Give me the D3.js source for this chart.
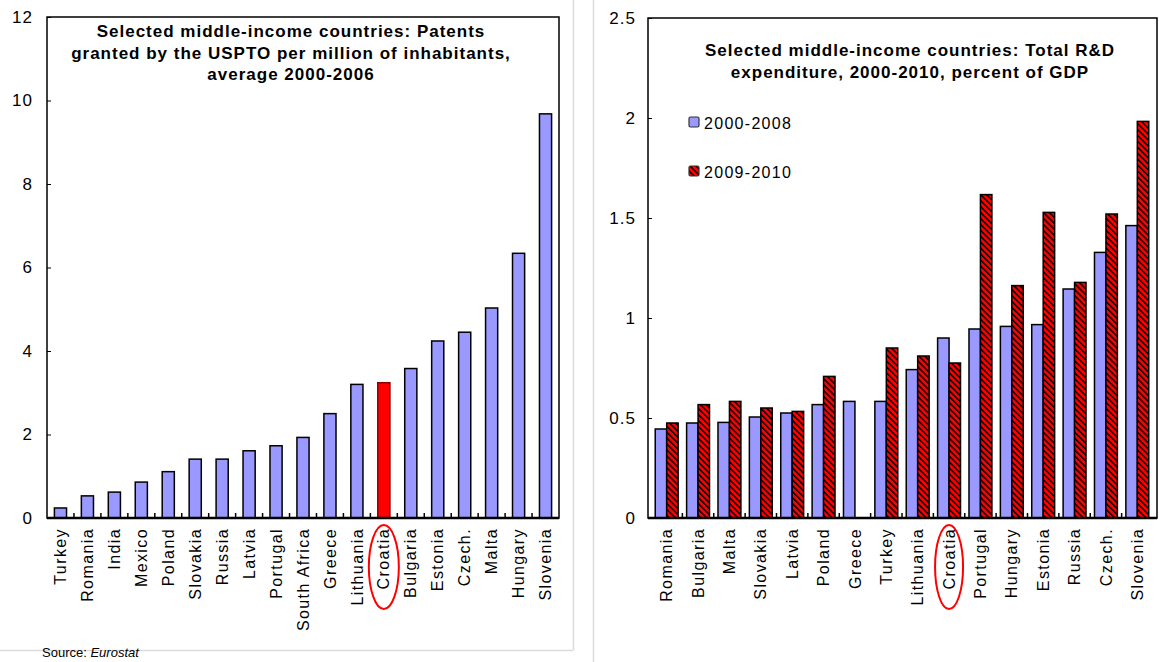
<!DOCTYPE html>
<html>
<head>
<meta charset="utf-8">
<script src="https://cdn.jsdelivr.net/npm/d3@7"></script>
<style>
  body { margin: 0; background: #fff; }
  svg { display: block; font-family: Arial, "Liberation Sans", sans-serif; }
  .tick text { font-size: 17px; fill: #000; letter-spacing: 1px; }
  .cat { font-size: 16px; letter-spacing: 1.4px; }
  .title { font-size: 17px; font-weight: bold; letter-spacing: 1px; }
</style>
</head>
<body>
<div id="container"></div>
<script>
// left chart: patents granted by the USPTO per million inhabitants
var patentCountries = ['Turkey', 'Romania', 'India', 'Mexico', 'Poland', 'Slovakia', 'Russia', 'Latvia',
    'Portugal', 'South Africa', 'Greece', 'Lithuania', 'Croatia', 'Bulgaria', 'Estonia', 'Czech.',
    'Malta', 'Hungary', 'Slovenia'];
var patentValues = [0.24, 0.53, 0.62, 0.86, 1.11, 1.41, 1.41, 1.61, 1.73, 1.93, 2.50, 3.20, 3.24,
    3.58, 4.24, 4.45, 5.03, 6.34, 9.68];
var patentTicks = [0, 2, 4, 6, 8, 10, 12];
var patentTitle = ['Selected middle-income countries: Patents',
    'granted by the USPTO per million of inhabitants,',
    'average 2000-2006'];

// right chart: R&D expenditure, percent of GDP
var rdCountries = ['Romania', 'Bulgaria', 'Malta', 'Slovakia', 'Latvia', 'Poland', 'Greece', 'Turkey',
    'Lithuania', 'Croatia', 'Portugal', 'Hungary', 'Estonia', 'Russia', 'Czech.', 'Slovenia'];
var rdSeries = ['2000-2008', '2009-2010'];
var rd2000_2008 = [0.445, 0.475, 0.478, 0.505, 0.525, 0.567, 0.583, 0.583, 0.742, 0.90, 0.945, 0.958,
    0.967, 1.145, 1.328, 1.462];
var rd2009_2010 = [0.475, 0.567, 0.583, 0.55, 0.533, 0.708, null, 0.85, 0.81, 0.775, 1.617, 1.162,
    1.528, 1.178, 1.52, 1.983];
var rdTicks = [0, 0.5, 1, 1.5, 2, 2.5];
var rdTitle = ['Selected middle-income countries: Total R&D',
    'expenditure, 2000-2010, percent of GDP'];

var highlight = 'Croatia';

var width = 1159, height = 662;
var blue = '#9999ff', red = '#ff0000';

var svg = d3.select('#container').append('svg')
    .attr('width', width)
    .attr('height', height);

svg.append('rect').attr('width', width).attr('height', height).attr('fill', '#fff');

// hatch pattern for the 2009-2010 bars
var defs = svg.append('defs');
var pat = defs.append('pattern')
    .attr('id', 'hatch')
    .attr('patternUnits', 'userSpaceOnUse')
    .attr('width', 4.2)
    .attr('height', 4.2)
    .attr('patternTransform', 'rotate(-45)');
pat.append('rect').attr('width', 4.2).attr('height', 4.2).attr('fill', red);
pat.append('rect').attr('width', 1.5).attr('height', 4.2).attr('fill', '#000');

// light panel borders
svg.append('line').attr('x1', 573.5).attr('x2', 573.5).attr('y1', 0).attr('y2', 650)
    .attr('stroke', '#dcdcdc').attr('stroke-width', 1.5);
svg.append('line').attr('x1', 0).attr('x2', 573.5).attr('y1', 650.5).attr('y2', 650.5)
    .attr('stroke', '#dcdcdc').attr('stroke-width', 1.5);
svg.append('line').attr('x1', 593.5).attr('x2', 593.5).attr('y1', 0).attr('y2', height)
    .attr('stroke', '#dcdcdc').attr('stroke-width', 1.5);

var source = svg.append('text').attr('x', 42).attr('y', 657).style('font-size', '13px');
source.append('tspan').text('Source: ');
source.append('tspan').style('font-style', 'italic').text('Eurostat');

/*********** left chart ***********/
var L = { left: 47, right: 559, top: 17, bottom: 518 };

var xL = d3.scaleBand()
    .domain(patentCountries)
    .range([L.left, L.right])
    .paddingInner(0.55)
    .paddingOuter(0.275);

var yL = d3.scaleLinear()
    .domain([0, 12])
    .range([L.bottom, L.top]);

var left = svg.append('g');

left.append('g')
    .attr('transform', 'translate(' + L.left + ',0)')
    .call(d3.axisLeft(yL).tickValues(patentTicks).tickSizeInner(-4).tickSizeOuter(0).tickPadding(14))
    .call(g => g.select('.domain').remove())
    .call(g => g.selectAll('.tick line').attr('stroke', '#000'));

left.selectAll('.bar')
    .data(patentCountries)
    .enter()
    .append('rect')
    .attr('x', d => xL(d))
    .attr('width', xL.bandwidth())
    .attr('y', (d, i) => yL(patentValues[i]))
    .attr('height', (d, i) => yL(0) - yL(patentValues[i]))
    .attr('fill', d => d === highlight ? red : blue)
    .attr('stroke', d => d === highlight ? '#8b0000' : '#000')
    .attr('stroke-width', 1.5);

// frame
left.append('rect')
    .attr('x', L.left).attr('y', yL(12))
    .attr('width', L.right - L.left).attr('height', yL(0) - yL(12))
    .attr('fill', 'none').attr('stroke', '#000').attr('stroke-width', 1.5);
left.append('line')
    .attr('x1', L.left).attr('x2', L.right).attr('y1', yL(0)).attr('y2', yL(0))
    .attr('stroke', '#000').attr('stroke-width', 2.5);

// category separators
var stepL = xL.step();
left.selectAll('.sep')
    .data(patentCountries.slice(1))
    .enter()
    .append('line')
    .attr('x1', d => xL(d) - (stepL - xL.bandwidth()) / 2)
    .attr('x2', d => xL(d) - (stepL - xL.bandwidth()) / 2)
    .attr('y1', yL(0)).attr('y2', yL(0) - 5)
    .attr('stroke', '#000').attr('stroke-width', 1.5);

left.selectAll('.cat')
    .data(patentCountries)
    .enter()
    .append('text')
    .attr('class', 'cat')
    .attr('transform', d => 'translate(' + (xL(d) + xL.bandwidth() / 2) + ',' + (yL(0) + 10) + ') rotate(-90)')
    .attr('dy', '0.35em')
    .attr('text-anchor', 'end')
    .text(d => d);

left.selectAll('.title')
    .data(patentTitle)
    .enter()
    .append('text')
    .attr('class', 'title')
    .attr('x', 291)
    .attr('y', (d, i) => 37 + i * 21.5)
    .attr('text-anchor', 'middle')
    .text(d => d);

left.append('ellipse')
    .attr('cx', xL(highlight) + xL.bandwidth() / 2)
    .attr('cy', 567)
    .attr('rx', 15)
    .attr('ry', 42)
    .attr('fill', 'none')
    .attr('stroke', red)
    .attr('stroke-width', 2);

/*********** right chart ***********/
var R = { left: 648, right: 1157, top: 18, bottom: 518 };

var x0 = d3.scaleBand()
    .domain(rdCountries)
    .range([R.left + 3, R.right - 4])
    .paddingInner(0.27)
    .paddingOuter(0.135);

var x1 = d3.scaleBand()
    .domain(rdSeries)
    .range([0, x0.bandwidth()]);

var yR = d3.scaleLinear()
    .domain([0, 2.5])
    .range([R.bottom, R.top]);

var right = svg.append('g');

right.append('g')
    .attr('transform', 'translate(' + R.left + ',0)')
    .call(d3.axisLeft(yR).tickValues(rdTicks).tickFormat(d => String(d)).tickSizeInner(-4).tickSizeOuter(0).tickPadding(12))
    .call(g => g.select('.domain').remove())
    .call(g => g.selectAll('.tick line').attr('stroke', '#000'));

var rows = rdCountries.map((c, i) => ({ country: c, values: [rd2000_2008[i], rd2009_2010[i]] }));

var groups = right.selectAll('.grp')
    .data(rows)
    .enter()
    .append('g')
    .attr('transform', d => 'translate(' + x0(d.country) + ',0)');

groups.selectAll('rect')
    .data(d => d.values.map((v, j) => ({ key: rdSeries[j], value: v })).filter(e => e.value != null))
    .enter()
    .append('rect')
    .attr('x', d => x1(d.key))
    .attr('width', x1.bandwidth())
    .attr('y', d => yR(d.value))
    .attr('height', d => yR(0) - yR(d.value))
    .attr('fill', d => d.key === rdSeries[0] ? blue : 'url(#hatch)')
    .attr('stroke', '#000')
    .attr('stroke-width', 1.5);

right.append('rect')
    .attr('x', R.left).attr('y', yR(2.5))
    .attr('width', R.right - R.left).attr('height', yR(0) - yR(2.5))
    .attr('fill', 'none').attr('stroke', '#000').attr('stroke-width', 1.5);
right.append('line')
    .attr('x1', R.left).attr('x2', R.right).attr('y1', yR(0)).attr('y2', yR(0))
    .attr('stroke', '#000').attr('stroke-width', 2.5);

var stepR = x0.step();
right.selectAll('.sep')
    .data(rdCountries.slice(1))
    .enter()
    .append('line')
    .attr('x1', d => x0(d) - (stepR - x0.bandwidth()) / 2)
    .attr('x2', d => x0(d) - (stepR - x0.bandwidth()) / 2)
    .attr('y1', yR(0)).attr('y2', yR(0) - 5)
    .attr('stroke', '#000').attr('stroke-width', 1.5);

right.selectAll('.cat')
    .data(rdCountries)
    .enter()
    .append('text')
    .attr('class', 'cat')
    .attr('transform', d => 'translate(' + (x0(d) + x0.bandwidth() / 2) + ',' + (yR(0) + 10) + ') rotate(-90)')
    .attr('dy', '0.35em')
    .attr('text-anchor', 'end')
    .text(d => d);

right.selectAll('.title')
    .data(rdTitle)
    .enter()
    .append('text')
    .attr('class', 'title')
    .attr('x', 910)
    .attr('y', (d, i) => 56 + i * 22)
    .attr('text-anchor', 'middle')
    .text(d => d);

// legend
var legend = right.selectAll('.leg')
    .data(rdSeries)
    .enter()
    .append('g')
    .attr('transform', (d, i) => 'translate(689,' + (117 + i * 49) + ')');
legend.append('rect')
    .attr('width', 10).attr('height', 10).attr('rx', 1.5)
    .attr('fill', (d, i) => i === 0 ? blue : 'url(#hatch)')
    .attr('stroke', '#333').attr('stroke-width', 1.2);
legend.append('text')
    .attr('x', 15).attr('y', 12)
    .style('font-size', '16px')
    .style('letter-spacing', '1.3px')
    .text(d => d);

right.append('ellipse')
    .attr('cx', x0(highlight) + x0.bandwidth() / 2)
    .attr('cy', 567)
    .attr('rx', 14)
    .attr('ry', 42)
    .attr('fill', 'none')
    .attr('stroke', red)
    .attr('stroke-width', 2);
</script>
</body>
</html>
